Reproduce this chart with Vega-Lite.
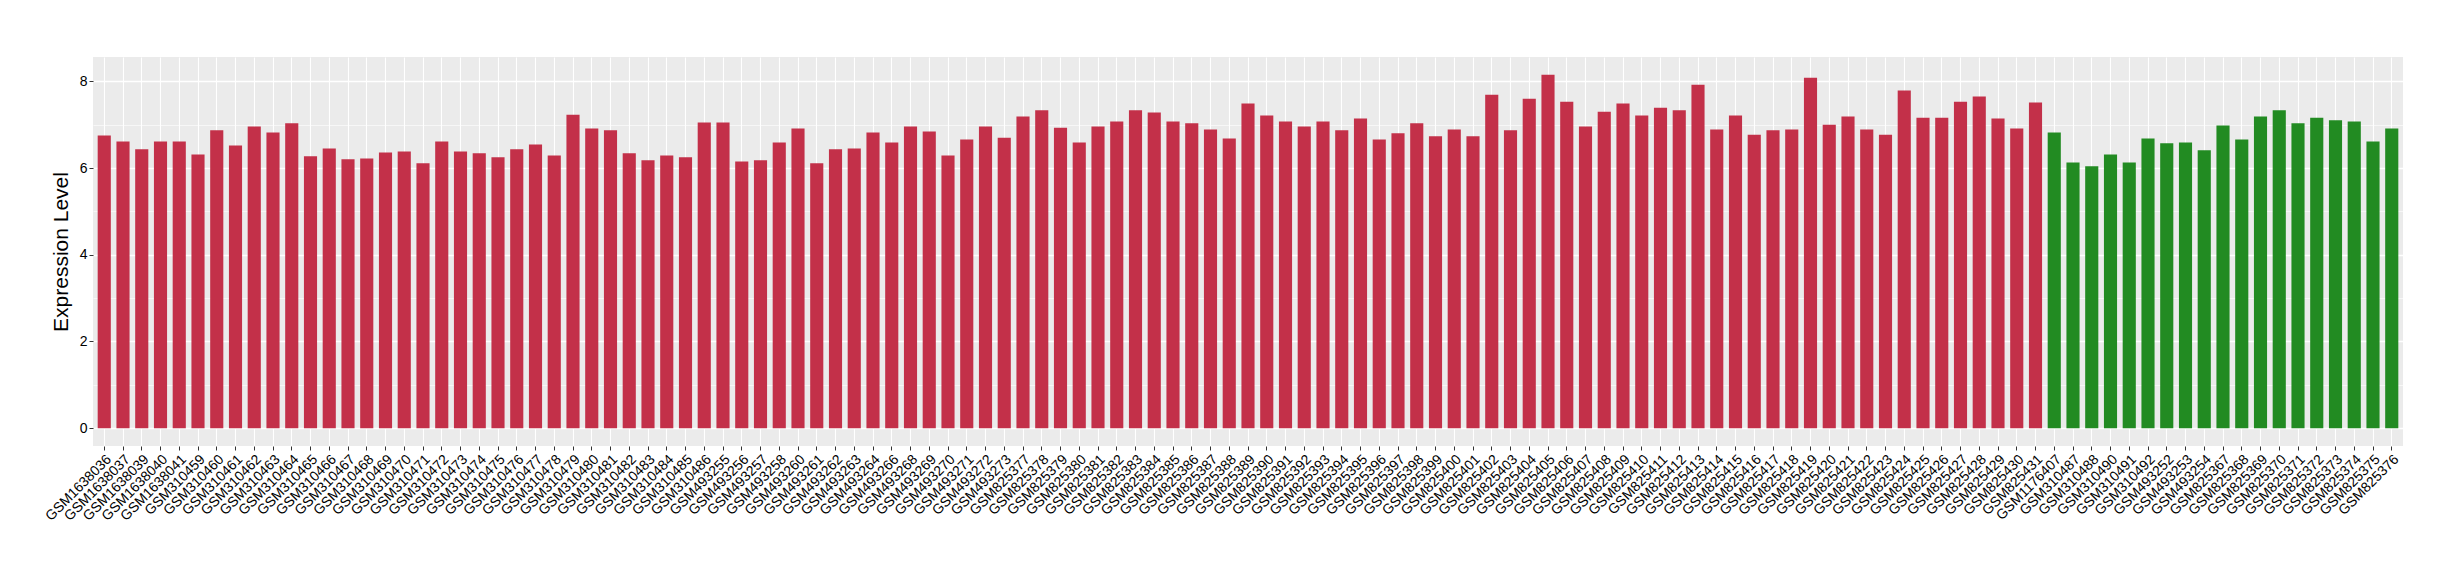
{
  "$schema": "https://vega.github.io/schema/vega-lite/v6.json",
  "autosize": "none",
  "padding": {"left": 93, "top": 57, "right": 57, "bottom": 134},
  "width": 2310,
  "height": 389,
  "background": "white",
  "config": {
    "font": "Liberation Sans",
    "view": {"fill": "#EBEBEB", "stroke": null}
  },
  "data": {
    "values": [
      {"sample": "GSM1638036", "value": 6.75, "group": "case"},
      {"sample": "GSM1638037", "value": 6.61, "group": "case"},
      {"sample": "GSM1638039", "value": 6.43, "group": "case"},
      {"sample": "GSM1638040", "value": 6.61, "group": "case"},
      {"sample": "GSM1638041", "value": 6.61, "group": "case"},
      {"sample": "GSM310459", "value": 6.31, "group": "case"},
      {"sample": "GSM310460", "value": 6.87, "group": "case"},
      {"sample": "GSM310461", "value": 6.52, "group": "case"},
      {"sample": "GSM310462", "value": 6.96, "group": "case"},
      {"sample": "GSM310463", "value": 6.82, "group": "case"},
      {"sample": "GSM310464", "value": 7.03, "group": "case"},
      {"sample": "GSM310465", "value": 6.27, "group": "case"},
      {"sample": "GSM310466", "value": 6.45, "group": "case"},
      {"sample": "GSM310467", "value": 6.20, "group": "case"},
      {"sample": "GSM310468", "value": 6.22, "group": "case"},
      {"sample": "GSM310469", "value": 6.36, "group": "case"},
      {"sample": "GSM310470", "value": 6.38, "group": "case"},
      {"sample": "GSM310471", "value": 6.11, "group": "case"},
      {"sample": "GSM310472", "value": 6.61, "group": "case"},
      {"sample": "GSM310473", "value": 6.38, "group": "case"},
      {"sample": "GSM310474", "value": 6.34, "group": "case"},
      {"sample": "GSM310475", "value": 6.25, "group": "case"},
      {"sample": "GSM310476", "value": 6.43, "group": "case"},
      {"sample": "GSM310477", "value": 6.54, "group": "case"},
      {"sample": "GSM310478", "value": 6.29, "group": "case"},
      {"sample": "GSM310479", "value": 7.23, "group": "case"},
      {"sample": "GSM310480", "value": 6.91, "group": "case"},
      {"sample": "GSM310481", "value": 6.87, "group": "case"},
      {"sample": "GSM310482", "value": 6.34, "group": "case"},
      {"sample": "GSM310483", "value": 6.18, "group": "case"},
      {"sample": "GSM310484", "value": 6.29, "group": "case"},
      {"sample": "GSM310485", "value": 6.25, "group": "case"},
      {"sample": "GSM310486", "value": 7.05, "group": "case"},
      {"sample": "GSM493255", "value": 7.05, "group": "case"},
      {"sample": "GSM493256", "value": 6.15, "group": "case"},
      {"sample": "GSM493257", "value": 6.18, "group": "case"},
      {"sample": "GSM493258", "value": 6.59, "group": "case"},
      {"sample": "GSM493260", "value": 6.91, "group": "case"},
      {"sample": "GSM493261", "value": 6.11, "group": "case"},
      {"sample": "GSM493262", "value": 6.43, "group": "case"},
      {"sample": "GSM493263", "value": 6.45, "group": "case"},
      {"sample": "GSM493264", "value": 6.82, "group": "case"},
      {"sample": "GSM493266", "value": 6.59, "group": "case"},
      {"sample": "GSM493268", "value": 6.96, "group": "case"},
      {"sample": "GSM493269", "value": 6.84, "group": "case"},
      {"sample": "GSM493270", "value": 6.29, "group": "case"},
      {"sample": "GSM493271", "value": 6.66, "group": "case"},
      {"sample": "GSM493272", "value": 6.96, "group": "case"},
      {"sample": "GSM493273", "value": 6.70, "group": "case"},
      {"sample": "GSM825377", "value": 7.19, "group": "case"},
      {"sample": "GSM825378", "value": 7.33, "group": "case"},
      {"sample": "GSM825379", "value": 6.93, "group": "case"},
      {"sample": "GSM825380", "value": 6.59, "group": "case"},
      {"sample": "GSM825381", "value": 6.96, "group": "case"},
      {"sample": "GSM825382", "value": 7.07, "group": "case"},
      {"sample": "GSM825383", "value": 7.33, "group": "case"},
      {"sample": "GSM825384", "value": 7.28, "group": "case"},
      {"sample": "GSM825385", "value": 7.07, "group": "case"},
      {"sample": "GSM825386", "value": 7.03, "group": "case"},
      {"sample": "GSM825387", "value": 6.89, "group": "case"},
      {"sample": "GSM825388", "value": 6.68, "group": "case"},
      {"sample": "GSM825389", "value": 7.49, "group": "case"},
      {"sample": "GSM825390", "value": 7.21, "group": "case"},
      {"sample": "GSM825391", "value": 7.07, "group": "case"},
      {"sample": "GSM825392", "value": 6.96, "group": "case"},
      {"sample": "GSM825393", "value": 7.07, "group": "case"},
      {"sample": "GSM825394", "value": 6.87, "group": "case"},
      {"sample": "GSM825395", "value": 7.14, "group": "case"},
      {"sample": "GSM825396", "value": 6.66, "group": "case"},
      {"sample": "GSM825397", "value": 6.80, "group": "case"},
      {"sample": "GSM825398", "value": 7.03, "group": "case"},
      {"sample": "GSM825399", "value": 6.73, "group": "case"},
      {"sample": "GSM825400", "value": 6.89, "group": "case"},
      {"sample": "GSM825401", "value": 6.73, "group": "case"},
      {"sample": "GSM825402", "value": 7.69, "group": "case"},
      {"sample": "GSM825403", "value": 6.87, "group": "case"},
      {"sample": "GSM825404", "value": 7.60, "group": "case"},
      {"sample": "GSM825405", "value": 8.15, "group": "case"},
      {"sample": "GSM825406", "value": 7.53, "group": "case"},
      {"sample": "GSM825407", "value": 6.96, "group": "case"},
      {"sample": "GSM825408", "value": 7.30, "group": "case"},
      {"sample": "GSM825409", "value": 7.49, "group": "case"},
      {"sample": "GSM825410", "value": 7.21, "group": "case"},
      {"sample": "GSM825411", "value": 7.39, "group": "case"},
      {"sample": "GSM825412", "value": 7.33, "group": "case"},
      {"sample": "GSM825413", "value": 7.92, "group": "case"},
      {"sample": "GSM825414", "value": 6.89, "group": "case"},
      {"sample": "GSM825415", "value": 7.21, "group": "case"},
      {"sample": "GSM825416", "value": 6.77, "group": "case"},
      {"sample": "GSM825417", "value": 6.87, "group": "case"},
      {"sample": "GSM825418", "value": 6.89, "group": "case"},
      {"sample": "GSM825419", "value": 8.08, "group": "case"},
      {"sample": "GSM825420", "value": 7.00, "group": "case"},
      {"sample": "GSM825421", "value": 7.19, "group": "case"},
      {"sample": "GSM825422", "value": 6.89, "group": "case"},
      {"sample": "GSM825423", "value": 6.77, "group": "case"},
      {"sample": "GSM825424", "value": 7.79, "group": "case"},
      {"sample": "GSM825425", "value": 7.16, "group": "case"},
      {"sample": "GSM825426", "value": 7.16, "group": "case"},
      {"sample": "GSM825427", "value": 7.53, "group": "case"},
      {"sample": "GSM825428", "value": 7.65, "group": "case"},
      {"sample": "GSM825429", "value": 7.14, "group": "case"},
      {"sample": "GSM825430", "value": 6.91, "group": "case"},
      {"sample": "GSM825431", "value": 7.51, "group": "case"},
      {"sample": "GSM1176407", "value": 6.82, "group": "control"},
      {"sample": "GSM310487", "value": 6.13, "group": "control"},
      {"sample": "GSM310488", "value": 6.04, "group": "control"},
      {"sample": "GSM310490", "value": 6.31, "group": "control"},
      {"sample": "GSM310491", "value": 6.13, "group": "control"},
      {"sample": "GSM310492", "value": 6.68, "group": "control"},
      {"sample": "GSM493252", "value": 6.57, "group": "control"},
      {"sample": "GSM493253", "value": 6.59, "group": "control"},
      {"sample": "GSM493254", "value": 6.41, "group": "control"},
      {"sample": "GSM825367", "value": 6.98, "group": "control"},
      {"sample": "GSM825368", "value": 6.66, "group": "control"},
      {"sample": "GSM825369", "value": 7.19, "group": "control"},
      {"sample": "GSM825370", "value": 7.33, "group": "control"},
      {"sample": "GSM825371", "value": 7.03, "group": "control"},
      {"sample": "GSM825372", "value": 7.16, "group": "control"},
      {"sample": "GSM825373", "value": 7.10, "group": "control"},
      {"sample": "GSM825374", "value": 7.07, "group": "control"},
      {"sample": "GSM825375", "value": 6.61, "group": "control"},
      {"sample": "GSM825376", "value": 6.91, "group": "control"}
    ]
  },
  "mark": {"type": "bar"},
  "encoding": {
    "x": {
      "field": "sample",
      "type": "nominal",
      "sort": null,
      "scale": {"paddingInner": 0.3, "paddingOuter": 0.25},
      "axis": {
        "title": null,
        "domain": false,
        "bandPosition": 0.5,
        "grid": true,
        "gridColor": "white",
        "gridWidth": 1.1,
        "ticks": true,
        "tickSize": 4,
        "tickColor": "#333333",
        "tickWidth": 1,
        "labelAngle": -45,
        "labelAlign": "right",
        "labelBaseline": "top",
        "labelPadding": 2,
        "labelFontSize": 14,
        "labelColor": "black",
        "labelFont": "Liberation Sans",
        "labelOverlap": false,
        "labelLimit": 0
      }
    },
    "y": {
      "field": "value",
      "type": "quantitative",
      "scale": {"domain": [-0.41, 8.56], "nice": false, "zero": false},
      "axis": {
        "title": "Expression Level",
        "titleFontSize": 21,
        "titleFontWeight": "normal",
        "titleColor": "black",
        "titleFont": "Liberation Sans",
        "titlePadding": 8,
        "values": [0, 1, 2, 3, 4, 5, 6, 7, 8],
        "labelExpr": "datum.value % 2 === 0 ? datum.label : ''",
        "domain": false,
        "grid": true,
        "gridColor": "white",
        "gridWidth": {"condition": {"test": "datum.value % 2 === 1", "value": 0.6}, "value": 1.3},
        "tickSize": {"condition": {"test": "datum.value % 2 === 1", "value": 0}, "value": 4},
        "tickColor": "#333333",
        "labelFontSize": 14,
        "labelColor": "black",
        "labelPadding": 2,
        "labelFont": "Liberation Sans"
      }
    },
    "y2": {"datum": 0},
    "color": {
      "field": "group",
      "type": "nominal",
      "scale": {"domain": ["case", "control"], "range": ["#C33049", "#228B22"]},
      "legend": null
    }
  }
}
